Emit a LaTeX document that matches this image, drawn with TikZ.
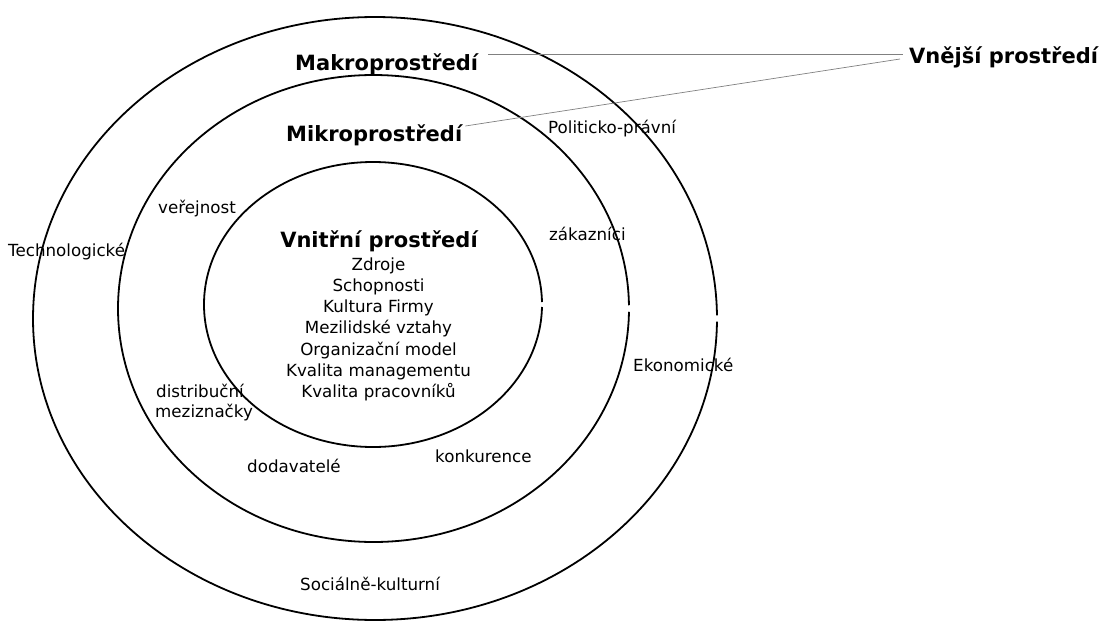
\documentclass[tikz,border=0pt]{standalone}
\usepackage{fontspec}
\setmainfont{DejaVu Sans}
\usetikzlibrary{positioning}
\tikzstyle{ring} = [draw, line width=1.8pt]
\tikzstyle{heading} = [inner sep=0pt, anchor=base west, font=\bfseries\fontsize{21}{25}\selectfont]
\tikzstyle{factor} = [inner sep=0pt, anchor=base west, font=\fontsize{16.7}{21.3}\selectfont]
\tikzstyle{leader} = [draw, gray, line width=0.7pt]

\begin{document}
\begin{tikzpicture}[x=1pt, y=-1pt]
    \useasboundingbox (0,0) rectangle (1102,621);

    % Draw the rings
    \draw [ring, shift={(375,318.5)}] (0.6:342 and 301.5) arc [start angle=0.6, end angle=359.4, x radius=342, y radius=301.5];
    \draw [ring, shift={(373.5,308.5)}] (0.8:255.5 and 233.5) arc [start angle=0.8, end angle=359.2, x radius=255.5, y radius=233.5];
    \draw [ring, shift={(373,304.5)}] (1:169 and 142.5) arc [start angle=1, end angle=359, x radius=169, y radius=142.5];

    % Place the headings
    \node [heading] (makro) at (295,70) {Makroprostředí};
    \node [heading] (mikro) at (286,141) {Mikroprostředí};
    \node [heading] (vnejsi) at (909,63) {Vnější prostředí};
    \node [heading, anchor=base] (vnitrni) at (379,247) {Vnitřní prostředí};

    % Place the factors
    \foreach \item [count=\i] in {Zdroje, Schopnosti, Kultura Firmy, Mezilidské vztahy, Organizační model, Kvalita managementu, Kvalita pracovníků}
        \node [factor, anchor=base] (item\i) at (378.5,248.7+21.3*\i) {\item};
    \node [factor] (politicko) at (548,133) {Politicko-právní};
    \node [factor] (zakaznici) at (549,240) {zákazníci};
    \node [factor] (verejnost) at (158,213) {veřejnost};
    \node [factor] (technologicke) at (8,256) {Technologické};
    \node [factor] (ekonomicke) at (633,371) {Ekonomické};
    \node [factor] (distribucni) at (156,397) {distribuční};
    \node [factor] (meziznacky) at (155,417) {meziznačky};
    \node [factor] (dodavatele) at (247,472) {dodavatelé};
    \node [factor] (konkurence) at (435,462) {konkurence};
    \node [factor] (socialne) at (300,590) {Sociálně-kulturní};

    % Connect the headings
    \draw [leader] ([xshift=10pt, yshift=16pt]makro.base east) -- ([xshift=-6pt, yshift=9pt]vnejsi.base west);
    \draw [leader] ([xshift=3pt, yshift=15pt]mikro.base east) -- ([xshift=-9pt, yshift=4pt]vnejsi.base west);
\end{tikzpicture}
\end{document}
